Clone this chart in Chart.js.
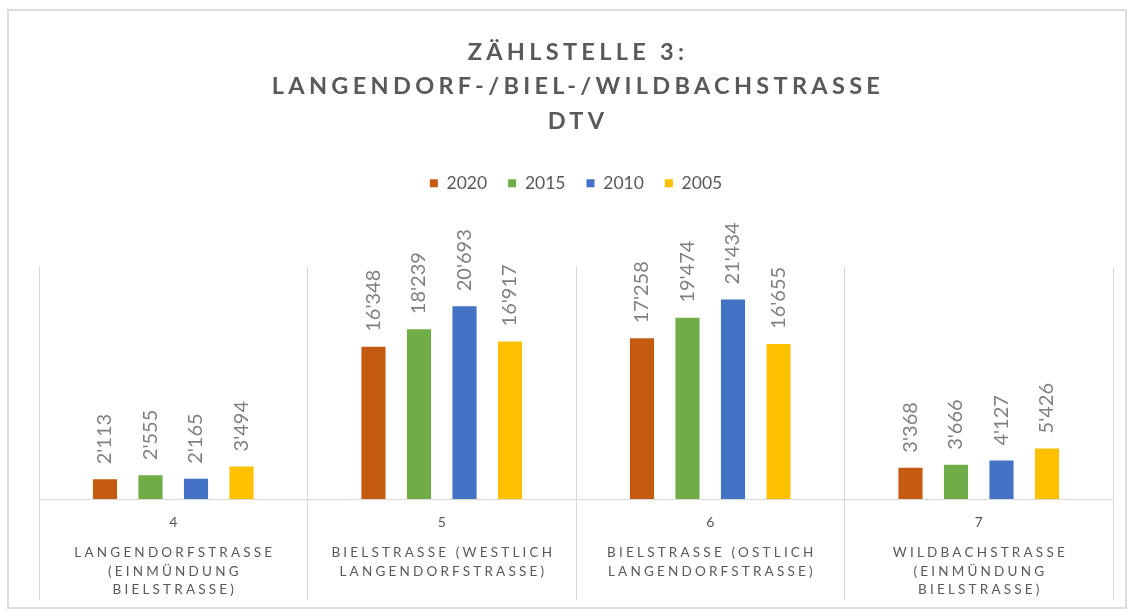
<!DOCTYPE html>
<html lang="de">
<head>
<meta charset="utf-8">
<title>Zählstelle 3 – DTV</title>
<script src="https://cdn.jsdelivr.net/npm/chart.js@4.4.1/dist/chart.umd.min.js"></script>
<style>
  html, body { margin: 0; padding: 0; background: #fff; }
  #wrap { position: relative; width: 1138px; height: 613px; }
  #rahmen { position: absolute; left: 7px; top: 9px; width: 1116px; height: 596px; border: 2px solid #dcdcdc; }
  #wrap canvas { position: absolute; left: 0; top: 0; }
</style>
</head>
<body>
<div id="wrap">
  <div id="rahmen"></div>
  <canvas id="myChart"></canvas>
</div>
<script>
// Zählstellen und Strassenbezeichnungen (Kategorien)
const stellen = ['4', '5', '6', '7'];
const strassen = [
  ['LANGENDORFSTRASSE', '(EINMÜNDUNG', 'BIELSTRASSE)'],
  ['BIELSTRASSE (WESTLICH', 'LANGENDORFSTRASSE)'],
  ['BIELSTRASSE (OSTLICH', 'LANGENDORFSTRASSE)'],
  ['WILDBACHSTRASSE', '(EINMÜNDUNG', 'BIELSTRASSE)']
];
const titelZeilen = ['ZÄHLSTELLE 3:', 'LANGENDORF-/BIEL-/WILDBACHSTRASSE', 'DTV'];

// DTV pro Jahr
const jahre = ['2020', '2015', '2010', '2005'];
const dtv2020 = [2113, 16348, 17258, 3368];
const dtv2015 = [2555, 18239, 19474, 3666];
const dtv2010 = [2165, 20693, 21434, 4127];
const dtv2005 = [3494, 16917, 16655, 5426];

const farben = ['#c55a11', '#70ad47', '#4472c4', '#ffc000'];

Chart.defaults.font.family = 'Lato';

// 16348 -> 16'348
const tausender = v => String(v).replace(/\B(?=(\d{3})+(?!\d))/g, "'");

// Titel und Strassennamen mit Zeichenabstand
const titelPlugin = {
  id: 'titel',
  afterDraw(chart) {
    const { ctx, chartArea } = chart;
    const mitte = (chartArea.left + chartArea.right) / 2;
    ctx.save();
    ctx.fillStyle = '#595959';
    ctx.textAlign = 'center';
    ctx.textBaseline = 'middle';

    ctx.font = 'bold 23.5px Lato';
    ctx.letterSpacing = '4.3px';
    titelZeilen.forEach((z, i) => ctx.fillText(z, mitte + 2, 52 + i * 34.5));

    ctx.font = '13.5px Lato';
    ctx.letterSpacing = '3.2px';
    const x = chart.scales.x;
    strassen.forEach((zeilen, i) => {
      const px = x.getPixelForValue(i);
      zeilen.forEach((z, j) => ctx.fillText(z, px + 1.6, 553 + j * 18.5));
    });
    ctx.letterSpacing = '0px';
    ctx.restore();
  }
};

// Werte senkrecht über den Säulen
const wertePlugin = {
  id: 'werte',
  afterDatasetsDraw(chart) {
    const { ctx } = chart;
    ctx.save();
    ctx.font = '20px Lato';
    ctx.fillStyle = '#7f7f7f';
    ctx.textAlign = 'left';
    ctx.textBaseline = 'middle';
    chart.data.datasets.forEach((ds, i) => {
      chart.getDatasetMeta(i).data.forEach((bar, j) => {
        ctx.save();
        ctx.translate(bar.x, bar.y - 15);
        ctx.rotate(-Math.PI / 2);
        ctx.fillText(tausender(ds.data[j]), 0, 0);
        ctx.restore();
      });
    });
    ctx.restore();
  }
};

new Chart(document.getElementById('myChart'), {
  type: 'bar',
  data: {
    labels: stellen,
    datasets: [
      { label: jahre[0], data: dtv2020, backgroundColor: farben[0] },
      { label: jahre[1], data: dtv2015, backgroundColor: farben[1] },
      { label: jahre[2], data: dtv2010, backgroundColor: farben[2] },
      { label: jahre[3], data: dtv2005, backgroundColor: farben[3] }
    ]
  },
  options: {
    responsive: true,
    maintainAspectRatio: false,
    animation: false,
    datasets: { bar: { barPercentage: 0.53, categoryPercentage: 0.678 } },
    layout: { padding: { top: 153.5, left: 39, right: 25, bottom: 0 } },
    scales: {
      x: {
        grid: { offset: true, color: '#d9d9d9', tickColor: '#d9d9d9', tickLength: 101 },
        border: { color: '#d9d9d9' },
        ticks: { color: '#595959', font: { size: 14 }, padding: -86 },
        afterFit: s => { s.height = 114; }
      },
      y: { display: false, min: 0, max: 25000 }
    },
    plugins: {
      legend: {
        position: 'top',
        labels: { boxWidth: 8, boxHeight: 8, padding: 21, color: '#595959', font: { size: 17.5 } }
      },
      // Abstand zwischen Legende und Diagrammfläche
      subtitle: { display: true, text: '', weight: 500, font: { size: 1 }, padding: { top: 0, bottom: 63 } },
      tooltip: { enabled: false }
    }
  },
  plugins: [titelPlugin, wertePlugin]
});
</script>
</body>
</html>
